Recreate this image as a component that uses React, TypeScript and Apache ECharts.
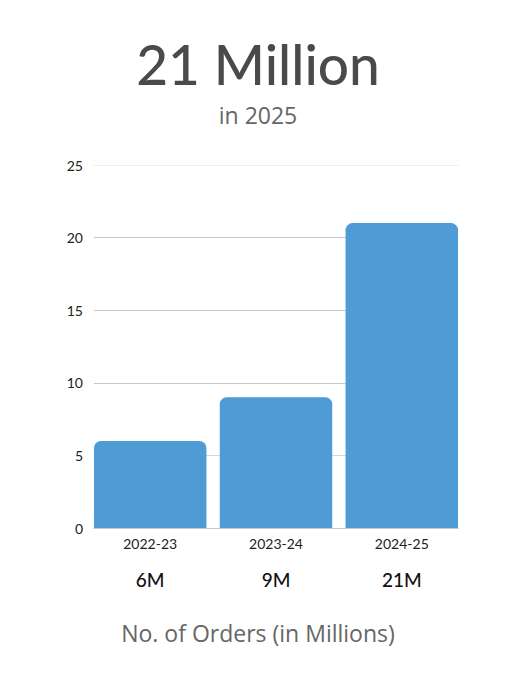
import React, { useEffect, useRef } from "react";
import * as echarts from "echarts";

const categories = ["2022-23", "2023-24", "2024-25"];
const orders = [6, 9, 21];
const yTicks = { min: 0, max: 25, interval: 5 };
const headline = "21 Million";
const subline = "in 2025";
const footer = "No. of Orders (in Millions)";

const FONT = "Lato, 'Noto Sans', sans-serif";
const WIDE = "'Open Sans', 'Noto Sans', sans-serif";

export default function App() {
  const ref = useRef<HTMLDivElement>(null);
  useEffect(() => {
    document.body.style.margin = "0";
    const chart = echarts.init(ref.current!, null, { renderer: "svg" });
    chart.setOption({
      animation: false,
      textStyle: { fontFamily: FONT },
      grid: [
        { left: 87.3, right: 51.3, top: 165, bottom: 158 },
        { left: 94, right: 58, top: 165, bottom: 158 },
      ],
      xAxis: [
        {
          type: "category",
          gridIndex: 0,
          data: categories,
          axisLine: { show: false },
          axisTick: { show: false },
          axisLabel: {
            margin: 5,
            formatter: (val: string, idx: number) => `{a|${val}}\n{b|${orders[idx]}M}`,
            rich: {
              a: { fontSize: 14, color: "#222", lineHeight: 20, fontFamily: FONT },
              b: { fontSize: 19, color: "#111", fontWeight: 500, lineHeight: 52, fontFamily: FONT },
            },
          },
        },
        {
          type: "category",
          gridIndex: 1,
          data: categories,
          axisLine: { show: true, lineStyle: { color: "#c8c8c8", width: 1 } },
          axisTick: { show: false },
          axisLabel: { show: false },
        },
      ],
      yAxis: [
        {
          type: "value",
          gridIndex: 0,
          ...yTicks,
          axisLabel: { show: false },
          splitLine: { show: false },
          axisLine: { show: false },
        },
        {
          type: "value",
          gridIndex: 1,
          ...yTicks,
          axisLabel: { color: "#222", fontSize: 14, margin: 11, fontFamily: FONT },
          axisLine: { show: false },
          axisTick: { show: false },
          splitLine: {
            lineStyle: {
              color: ["#c8c8c8", "#d8d8d8", "#c8c8c8", "#c8c8c8", "#c8c8c8", "#eeeeee"],
              width: 1,
            },
          },
        },
      ],
      series: [
        {
          type: "bar",
          xAxisIndex: 0,
          yAxisIndex: 0,
          data: orders,
          barCategoryGap: "10.6%",
          itemStyle: { color: "#4f9bd6", borderRadius: [7, 7, 0, 0] },
          z: 5,
        },
      ],
      graphic: [
        {
          type: "text",
          left: "center",
          top: 36,
          style: { text: headline, fontSize: 55, fill: "#4a4a4a", fontFamily: FONT, fontWeight: 500 },
        },
        {
          type: "text",
          left: "center",
          top: 103,
          style: { text: subline, fontSize: 23, fill: "#666", fontFamily: WIDE },
        },
        {
          type: "text",
          left: "center",
          top: 621,
          style: { text: footer, fontSize: 23, fill: "#666", fontFamily: WIDE },
        },
      ],
    });
    return () => chart.dispose();
  }, []);
  return <div ref={ref} style={{ width: 516, height: 686 }} />;
}
